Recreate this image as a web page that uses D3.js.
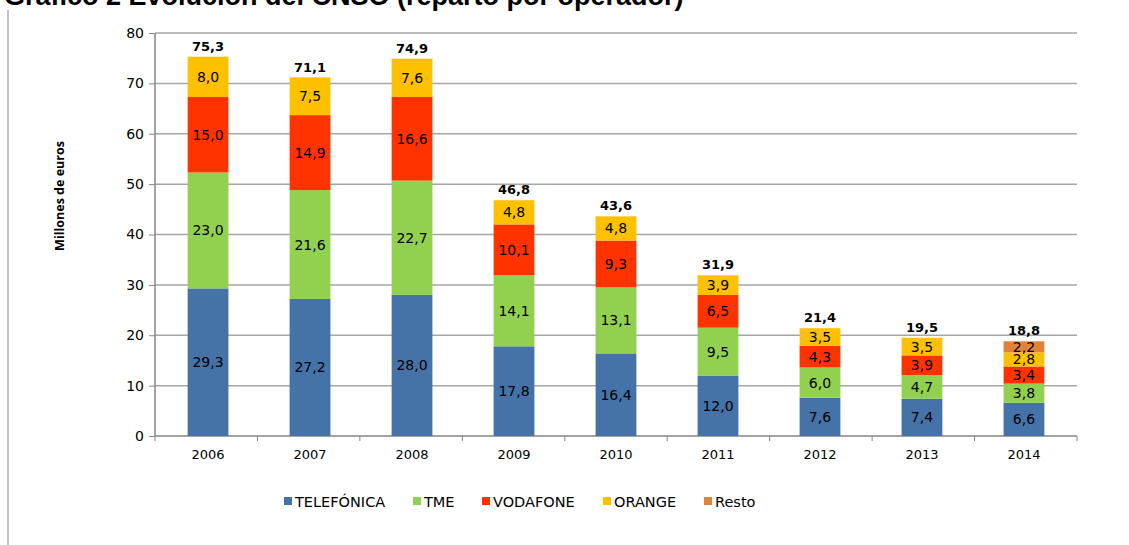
<!DOCTYPE html>
<html><head><meta charset="utf-8">
<script src="https://cdn.jsdelivr.net/npm/d3@7"></script>
<style>body{margin:0;background:#fff}svg{display:block}</style>
</head><body>
<svg id="c" width="1129" height="545"></svg>
<script>
const years = ["2006","2007","2008","2009","2010","2011","2012","2013","2014"];
const seriesNames = ["TELEFÓNICA","TME","VODAFONE","ORANGE","Resto"];
const telefonica = [29.3,27.2,28.0,17.8,16.4,12.0,7.6,7.4,6.6];
const tme = [23.0,21.6,22.7,14.1,13.1,9.5,6.0,4.7,3.8];
const vodafone = [15.0,14.9,16.6,10.1,9.3,6.5,4.3,3.9,3.4];
const orange = [8.0,7.5,7.6,4.8,4.8,3.9,3.5,3.5,2.8];
const resto = [0,0,0,0,0,0,0,0,2.2];
const totals = [75.3,71.1,74.9,46.8,43.6,31.9,21.4,19.5,18.8];
const yTicks = [0,10,20,30,40,50,60,70,80];
const colors = ["#4572A7","#92D050","#FF3300","#FFC000","#E0833A"];

const svg = d3.select("#c");
const L=155,R=1077,T=33,B=436;
const x = d3.scaleBand().domain(years).range([L,R]).paddingInner(0.6).paddingOuter(0.32);
const y = d3.scaleLinear().domain([0,80]).range([B,T]);
const fmt = v => d3.format(".1f")(v).replace(".",",");

// title (clipped at top)
svg.append("text").attr("x",4).attr("y",5).attr("font-family","Liberation Sans, Arial").attr("font-weight","bold").attr("font-size",27).attr("fill","#000").text("Gráfico 2 Evolución del CNSO (reparto por operador)");
// left border
svg.append("line").attr("x1",8).attr("x2",8).attr("y1",10).attr("y2",545).attr("stroke","#b0b0b0").attr("stroke-width",1.5);

// gridlines
svg.append("g").selectAll("line").data(yTicks.filter(d=>d>0)).join("line")
  .attr("x1",L).attr("x2",R).attr("y1",d=>y(d)).attr("y2",d=>y(d))
  .attr("stroke","#a6a6a6").attr("stroke-width",1.5);

// y axis
const ya = svg.append("g").attr("transform",`translate(${L},0)`).call(d3.axisLeft(y).tickValues(yTicks).tickSize(6).tickPadding(5));
ya.select(".domain").attr("stroke","#868686").attr("stroke-width",1.5).attr("d",`M-0,${T}V${B}`);
ya.selectAll(".tick line").attr("stroke","#868686");
ya.selectAll("text").attr("font-family","DejaVu Sans, Verdana").attr("font-size",14).attr("fill","#000");

// x axis
const xa = svg.append("g").attr("transform",`translate(0,${B})`);
xa.append("line").attr("x1",L).attr("x2",R).attr("y1",0).attr("y2",0).attr("stroke","#868686").attr("stroke-width",1.5);
xa.selectAll("line.t").data(d3.range(years.length+1)).join("line").attr("class","t")
  .attr("x1",i=>L+i*(R-L)/years.length).attr("x2",i=>L+i*(R-L)/years.length).attr("y1",0).attr("y2",5).attr("stroke","#868686");
xa.selectAll("text").data(years).join("text").attr("x",d=>x(d)+x.bandwidth()/2).attr("y",23)
  .attr("text-anchor","middle").attr("font-family","DejaVu Sans, Verdana").attr("font-size",13).attr("fill","#000").text(d=>d);

// y title
svg.append("text").attr("transform","translate(64,196) rotate(-90)").attr("text-anchor","middle")
  .attr("font-family","Open Sans, Liberation Sans").attr("font-weight","bold").attr("font-size",12.5).attr("fill","#000").text("Millones de euros");

// stacked bars
const seriesArr = [telefonica,tme,vodafone,orange,resto];
const rows = years.map((yr,i)=>{const o={year:yr}; seriesNames.forEach((s,k)=>o[s]=seriesArr[k][i]); return o;});
const stacked = d3.stack().keys(seriesNames)(rows);
const g = svg.append("g");
stacked.forEach((layer,k)=>{
  const sel = g.append("g");
  sel.selectAll("rect").data(layer.filter(d=>d[1]-d[0]>0)).join("rect")
    .attr("x",d=>x(d.data.year)).attr("width",x.bandwidth())
    .attr("y",d=>y(d[1])).attr("height",d=>y(d[0])-y(d[1])).attr("fill",colors[k]);
  sel.selectAll("text").data(layer.filter(d=>d[1]-d[0]>0)).join("text")
    .attr("x",d=>x(d.data.year)+x.bandwidth()/2).attr("y",d=>(y(d[0])+y(d[1]))/2+5)
    .attr("text-anchor","middle").attr("font-family","DejaVu Sans, Verdana").attr("font-size",14).attr("fill","#000")
    .text(d=>fmt(d[1]-d[0]));
});
// totals
svg.append("g").selectAll("text").data(years).join("text")
  .attr("x",d=>x(d)+x.bandwidth()/2).attr("y",(d,i)=>y(totals[i])-6)
  .attr("text-anchor","middle").attr("font-family","DejaVu Sans, Verdana").attr("font-weight","bold").attr("font-size",13).attr("fill","#000")
  .text((d,i)=>fmt(totals[i]));

// legend
const legX=[295,424,493,614,715];
const lg = svg.append("g");
seriesNames.forEach((s,k)=>{
  lg.append("rect").attr("x",legX[k]-11).attr("y",497).attr("width",8).attr("height",8).attr("fill",colors[k]);
  lg.append("text").attr("x",legX[k]).attr("y",506.5).attr("font-family","DejaVu Sans, Verdana").attr("font-size",14.5).attr("fill","#000").text(s);
});
</script>
</body></html>
